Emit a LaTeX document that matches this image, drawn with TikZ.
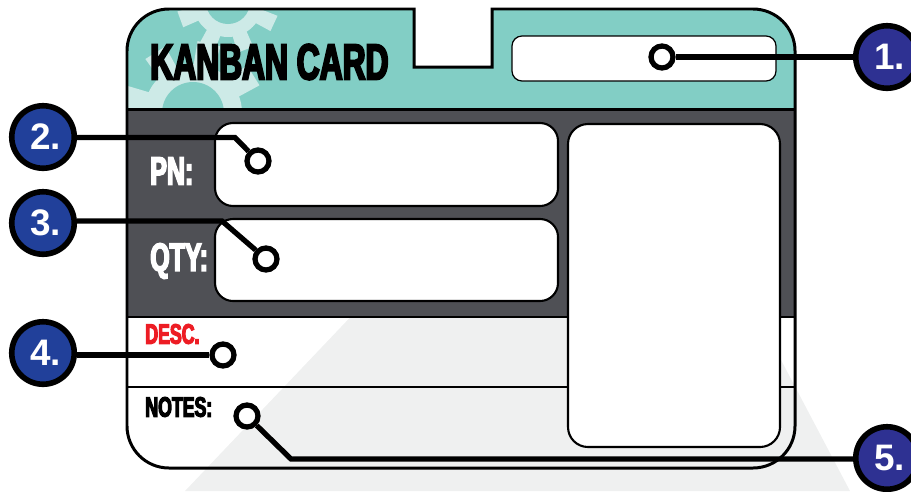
\documentclass[tikz,border=0pt]{standalone}
\usepackage{fontspec}
\setmainfont{Liberation Sans}
\newfontfamily\heavyfont{Liberation Sans}[BoldFeatures={FakeStretch=0.63,FakeBold=4}]
\definecolor{cardteal}{HTML}{82CEC5}
\definecolor{cardgear}{HTML}{CDEAE7}
\definecolor{carddark}{HTML}{4F5055}
\definecolor{cardback}{HTML}{EFF0F0}
\definecolor{cardred}{HTML}{ED1C24}
\definecolor{calloutblue}{HTML}{21409A}
\definecolor{calloutdeep}{HTML}{2E3192}
\tikzset{
  field/.style={draw=black,fill=white,line width=1.2pt},
  pin/.style={circle,draw=black,fill=white,line width=3pt,inner sep=0pt,minimum size=.44cm},
  callout/.style={circle,draw=black,fill=#1,line width=3.2pt,inner sep=0pt,minimum size=1.25cm,
    text=white,font=\bfseries\fontsize{21}{21}\selectfont,execute at begin node=\kern3pt},
  wire/.style={draw=black,line width=3pt},
  cardtext/.style={inner sep=0pt,font=\heavyfont\bfseries\fontsize{#1}{#1}\selectfont}
}
% one pale gear: centre, tilt, ring radius, hole radius
\newcommand{\cardgearat}[4]{
  \foreach \a in {0,45,...,315}
    \fill[cardgear,shift={(#1)},rotate=\a+#2] (#3*.8,-#3*.2) -- (#3*1.45,-#3*.24) -- (#3*1.45,#3*.24) -- (#3*.8,#3*.2) -- cycle;
  \fill[cardgear] (#1) circle (#3);
  \fill[cardteal] (#1) circle (#4);
}
\begin{document}
\begin{tikzpicture}[x=0.02cm,y=-0.02cm]
  \useasboundingbox (0,0) rectangle (911,491);
  \clip (0,0) rectangle (911,491);
  % back triangle
  \fill[cardback] (613,41) -- (850,491) -- (185,491) -- cycle;
  % header band
  \begin{scope}
    \clip (127,109) [rounded corners=.84cm] -- (127,9) [sharp corners] -- (414,9) -- (414,67) -- (492,67) -- (492,9) [rounded corners=.84cm] -- (795,9) [sharp corners] -- (795,109) -- cycle;
    \fill[cardteal] (100,0) rectangle (800,109);
    \cardgearat{228,2}{20}{35}{22}
    \cardgearat{193,113}{32}{49}{31}
  \end{scope}
  \fill[carddark] (127,109) rectangle (795,317);
  % outline
  \draw[line width=1.7pt,rounded corners=.84cm] (127,200) -- (127,9) [sharp corners] -- (414,9) -- (414,67) -- (492,67) -- (492,9) [rounded corners=.84cm] -- (795,9) -- (795,468) -- (127,468) -- (127,200);
  \draw[line width=1.7pt] (127,109) -- (795,109);
  \draw[line width=1.4pt] (127,317) -- (795,317);
  \draw[line width=1.4pt] (127,387) -- (795,387);
  % fields
  \draw[field,line width=.7pt,rounded corners=.2cm] (512,36) rectangle (776,81);
  \draw[field,rounded corners=.36cm] (215,123) rectangle (558,206);
  \draw[field,rounded corners=.36cm] (215,219) rectangle (558,301);
  \draw[field,rounded corners=.4cm] (568,124) rectangle (780,447);
  % labels
  \node[cardtext=28.7,anchor=west] (title) at (150,62) {KANBAN CARD};
  \node[cardtext=22.5,text=white,anchor=west] (pn) at (150,171) {PN:};
  \node[cardtext=22.5,text=white,anchor=west] (qty) at (150,261) {QTY:};
  \node[cardtext=16,text=cardred,anchor=west] (desc) at (145,334) {DESC.};
  \node[cardtext=16,anchor=west] (notes) at (145,407) {NOTES:};
  % callouts
  \node[callout=calloutdeep] (c1) at (887,57) {1.};
  \node[callout=calloutblue] (c2) at (43,137) {2.};
  \node[callout=calloutblue] (c3) at (43,223) {3.};
  \node[callout=calloutblue] (c4) at (43,353) {4.};
  \node[callout=calloutdeep] (c5) at (887,458) {5.};
  \node[pin] (p1) at (662,57) {};
  \node[pin] (p2) at (258,161) {};
  \node[pin] (p3) at (266,259) {};
  \node[pin] (p4) at (223,355) {};
  \node[pin] (p5) at (247,416) {};
  \coordinate (k2) at (235,137.5);
  \coordinate (k3) at (222,221);
  \coordinate (k5) at (291,459);
  \draw[wire] (c1) -- (p1);
  \draw[wire] (c2.east |- k2) -- (k2) -- (p2);
  \draw[wire] (c3.east |- k3) -- (k3) -- (p3);
  \draw[wire] (c4.east |- p4) -- (p4);
  \draw[wire] (c5.west |- k5) -- (k5) -- (p5);
\end{tikzpicture}
\end{document}
